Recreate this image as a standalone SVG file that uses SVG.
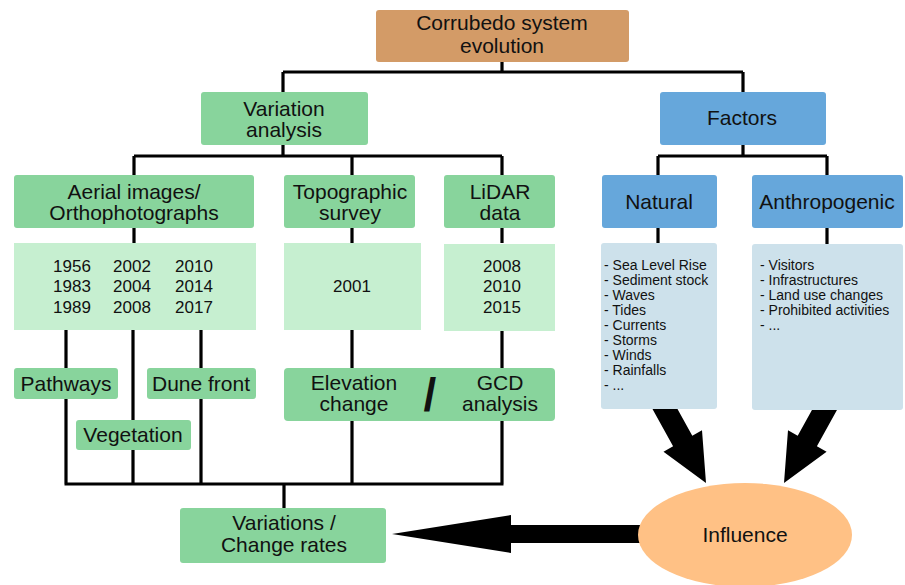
<svg xmlns="http://www.w3.org/2000/svg" width="905" height="585" viewBox="0 0 905 585">
<style>
text{font-family:"Liberation Sans",Arial,sans-serif;fill:#111;text-anchor:middle}
.t{font-size:21px}
.y{font-size:17px}
.l{font-size:14px;text-anchor:start}
.g{fill:#88D49C}
.lg{fill:#C6EFD0}
.b{fill:#66A7DB}
.lb{fill:#CDE1EB}
.c{stroke:#000;stroke-width:3.2;fill:none}
</style>
<rect width="905" height="585" fill="#fff"/>
<g id="connectors">
<path class="c" d="M502 62V72M283 72H743M283 72V92M743 72V92"/>
<path class="c" d="M283 145V156M134 156H502M134 156V175M352 156V175M502 156V175"/>
<path class="c" d="M743 145V156M658 156H827M658 156V175M827 156V175"/>
<path class="c" d="M134 228V243M352 228V243M502 228V243M658 228V243M827 228V244"/>
<path class="c" d="M66 330V484M133 330V484M201 330V484M352 330V484M502 330V484M64.5 484H503.5M284 484V508"/>
<polygon points="650.4,405.3 673.1,446.3 663.5,451.7 706,483 702,430.3 692.3,435.7 669.6,394.7" fill="#000"/>
<polygon points="839.6,405.3 816.9,446.3 826.6,451.7 784,483 788,430.3 797.7,435.7 820.4,394.7" fill="#000"/>
<polygon points="650,525 511,525 511,515 392,534 511,553 511,543 650,543" fill="#000"/>
</g>
<g id="corrubedo"><rect x="376" y="10" width="253" height="52" rx="3" fill="#D39B67"/><text class="t" x="502" y="30">Corrubedo system</text><text class="t" x="502" y="53">evolution</text></g>
<g id="variation"><rect class="g" x="201" y="92" width="167" height="53" rx="3"/><text class="t" x="284" y="116">Variation</text><text class="t" x="284" y="137">analysis</text></g>
<g id="factors"><rect class="b" x="660" y="92" width="166" height="53" rx="3"/><text class="t" x="742" y="125">Factors</text></g>
<g id="aerial"><rect class="g" x="14" y="175" width="240" height="53" rx="3"/><text class="t" x="134" y="199">Aerial images/</text><text class="t" x="134" y="220">Orthophotographs</text></g>
<g id="topo"><rect class="g" x="284" y="175" width="131" height="53" rx="3"/><text class="t" x="350" y="199">Topographic</text><text class="t" x="350" y="220">survey</text></g>
<g id="lidar"><rect class="g" x="444" y="175" width="111" height="53" rx="3"/><text class="t" x="500" y="199">LiDAR</text><text class="t" x="500" y="220">data</text></g>
<g id="natural"><rect class="b" x="602" y="175" width="115" height="53" rx="3"/><text class="t" x="659" y="209">Natural</text></g>
<g id="anthropogenic"><rect class="b" x="752" y="175" width="151" height="53" rx="3"/><text class="t" x="827" y="209">Anthropogenic</text></g>
<g id="aerial-years"><rect class="lg" x="14" y="243" width="242" height="87"/>
<text class="y" x="72" y="272">1956</text><text class="y" x="132" y="272">2002</text><text class="y" x="194" y="272">2010</text>
<text class="y" x="72" y="292">1983</text><text class="y" x="132" y="292">2004</text><text class="y" x="194" y="292">2014</text>
<text class="y" x="72" y="313">1989</text><text class="y" x="132" y="313">2008</text><text class="y" x="194" y="313">2017</text></g>
<g id="topo-years"><rect class="lg" x="284" y="243" width="137" height="87"/><text class="y" x="352" y="292">2001</text></g>
<g id="lidar-years"><rect class="lg" x="444" y="244" width="111" height="87"/><text class="y" x="502" y="272">2008</text><text class="y" x="502" y="292">2010</text><text class="y" x="502" y="313">2015</text></g>
<g id="natural-list"><rect class="lb" x="601" y="243" width="116" height="166" rx="3"/>
<text class="l" x="604" y="270">- Sea Level Rise</text><text class="l" x="604" y="285">- Sediment stock</text><text class="l" x="604" y="300">- Waves</text><text class="l" x="604" y="315">- Tides</text><text class="l" x="604" y="330">- Currents</text><text class="l" x="604" y="345">- Storms</text><text class="l" x="604" y="360">- Winds</text><text class="l" x="604" y="375">- Rainfalls</text><text class="l" x="604" y="390">- ...</text></g>
<g id="anthropogenic-list"><rect class="lb" x="752" y="244" width="151" height="166" rx="3"/>
<text class="l" x="760" y="270">- Visitors</text><text class="l" x="760" y="285">- Infrastructures</text><text class="l" x="760" y="300">- Land use changes</text><text class="l" x="760" y="315">- Prohibited activities</text><text class="l" x="760" y="330">- ...</text></g>
<g id="pathways"><rect class="g" x="14" y="368" width="104" height="31" rx="3"/><text class="t" x="66" y="391">Pathways</text></g>
<g id="dunefront"><rect class="g" x="147" y="368" width="109" height="31" rx="3"/><text class="t" x="201" y="391">Dune front</text></g>
<g id="vegetation"><rect class="g" x="76" y="420" width="115" height="30" rx="3"/><text class="t" x="133" y="442">Vegetation</text></g>
<g id="elevation-gcd"><rect class="g" x="284" y="368" width="271" height="53" rx="4"/><text class="t" x="354" y="390">Elevation</text><text class="t" x="354" y="411">change</text><text x="430" y="411" style="font-size:46px;font-weight:bold">/</text><text class="t" x="500" y="390">GCD</text><text class="t" x="500" y="411">analysis</text></g>
<g id="variations"><rect class="g" x="180" y="508" width="206" height="55" rx="3"/><text class="t" x="284" y="530">Variations /</text><text class="t" x="284" y="552">Change rates</text></g>
<g id="influence"><ellipse cx="745" cy="535" rx="107" ry="52" fill="#FFC185"/><text class="t" x="745" y="542">Influence</text></g>
</svg>
